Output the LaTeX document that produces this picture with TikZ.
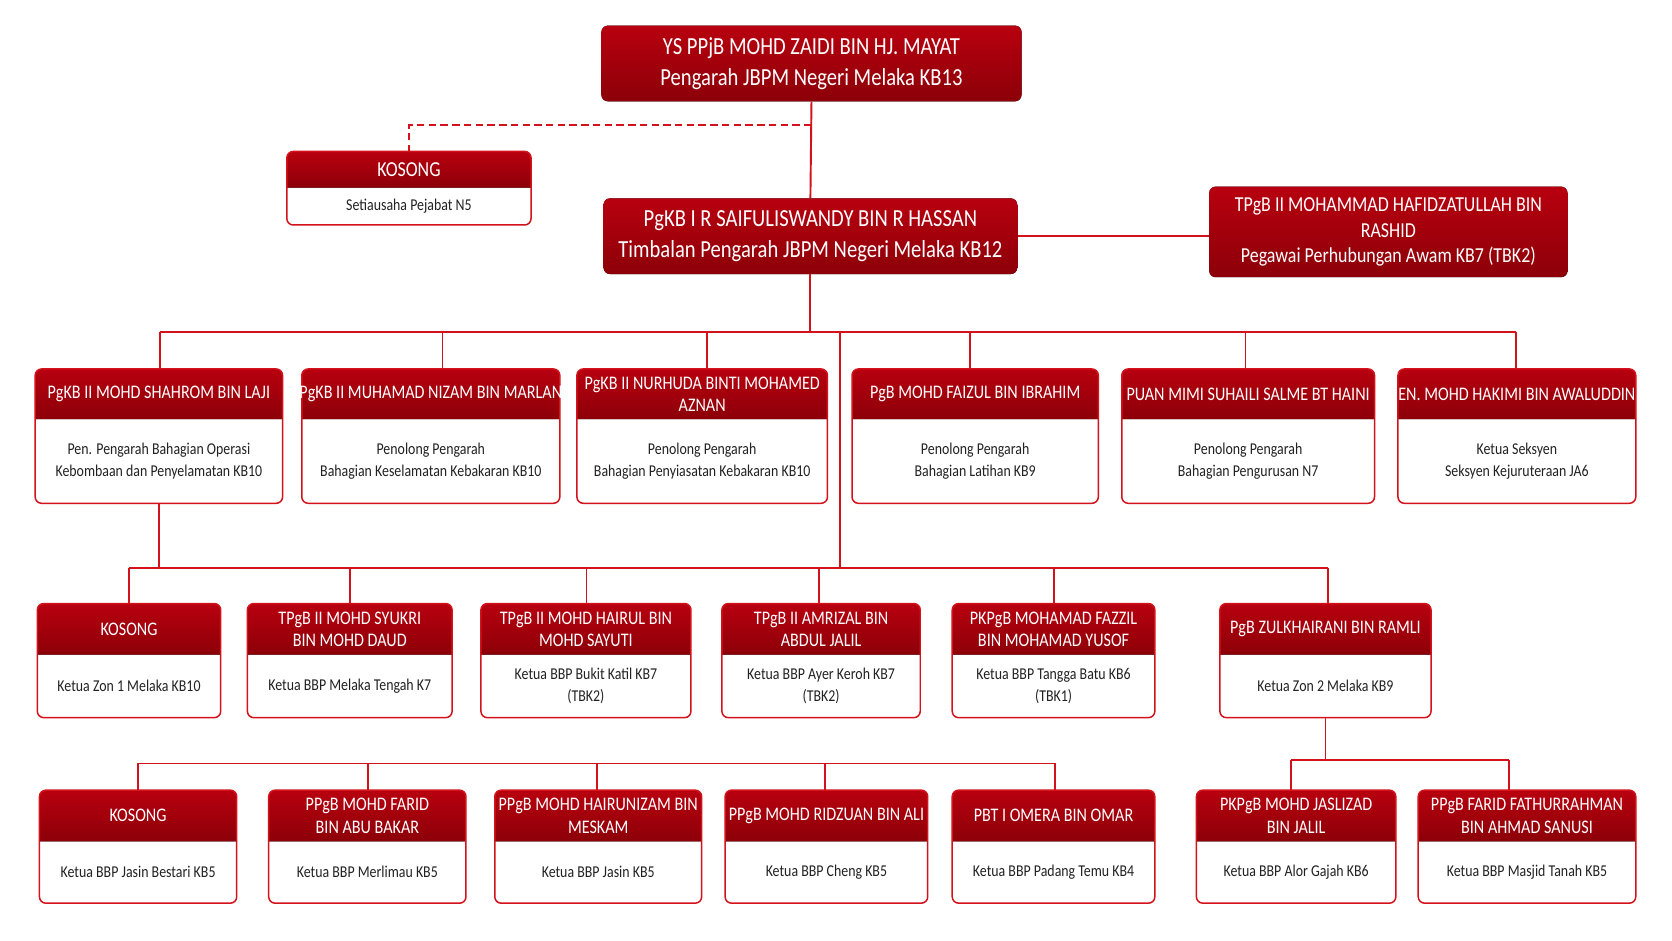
\documentclass[tikz,border=0pt]{standalone}
\usepackage{fontspec}
\setmainfont{Carlito}[FakeStretch=0.84]
\usetikzlibrary{fit,calc}
\definecolor{hdrtop}{HTML}{B8000F}
\definecolor{hdrbot}{HTML}{8C0008}
\definecolor{linered}{HTML}{D3121C}
\definecolor{bodytxt}{HTML}{222222}

\tikzstyle{obox}=[inner sep=0pt,fill=white]
\tikzstyle{hdr}=[top color=hdrtop,bottom color=hdrbot]
\tikzstyle{frame}=[draw=linered,line width=1.4pt]
\tikzstyle{link}=[draw=linered,line width=1.8pt]
\tikzstyle{htext}=[text=white,font=\fontsize{18}{21}\selectfont,align=center]
\tikzstyle{btext}=[text=bodytxt,font=\fontsize{15.5}{21}\selectfont,align=center]
\tikzstyle{bigtext}=[text=white,font=\fontsize{23}{29}\selectfont,align=center]

\newcommand\orgbox[8]{%
  \node[obox,fit={(#2,#3) (#4,#5)}] (#1) {};
  \fill[hdr,rounded corners=6pt] (#2,#6) [sharp corners] -- (#2,#3+8) [rounded corners=6pt] -- (#2,#3) -- (#4,#3) [sharp corners] -- (#4,#3+8) -- (#4,#6) -- cycle;
  \draw[frame,rounded corners=6pt] (#2,#3) rectangle (#4,#5);
  \node[htext] at ($(#2,#3)!0.5!(#4,#6)$) {#7};
  \node[btext] at ($(#2,#6)!0.5!(#4,#5)$) {#8};
}
\newcommand\redbox[6]{%
  \node[obox,fit={(#2,#3) (#4,#5)}] (#1) {};
  \fill[hdr,rounded corners=6pt] (#2,#3) rectangle (#4,#5);
  \node[bigtext] at (#1.center) {#6};
}

\begin{document}
\begin{tikzpicture}[x=1pt,y=-1pt]
\useasboundingbox[fill=white] (0,0) rectangle (1568,882);

% top of the chart
\redbox{pengarah}{564}{24}{958}{95}{YS PPjB MOHD ZAIDI BIN HJ. MAYAT\\Pengarah JBPM Negeri Melaka KB13}
\redbox{timbalan}{566}{186}{954}{257}{PgKB I R SAIFULISWANDY BIN R HASSAN\\Timbalan Pengarah JBPM Negeri Melaka KB12}
\node[obox,fit={(1134,175) (1470,260)}] (awam) {};
\fill[hdr,rounded corners=6pt] (1134,175) rectangle (1470,260);
\node[text=white,font=\fontsize{20}{24}\selectfont,align=center] at (awam.center) {TPgB II MOHAMMAD HAFIDZATULLAH BIN\\RASHID\\Pegawai Perhubungan Awam KB7 (TBK2)};
\orgbox{setiausaha}{269}{142}{498}{211}{176}{\fontsize{20}{22}\selectfont KOSONG}{Setiausaha Pejabat N5}

\draw[link] (pengarah.south) -- (timbalan.north);
\draw[link,dash pattern=on 7pt off 4pt] (pengarah.south) ++(0,22) coordinate (dsh) -| (setiausaha.north);
\draw[link] (timbalan.east) -- (timbalan.east -| awam.west);

% second row
\orgbox{operasi}{33}{346}{265}{472}{393}{PgKB II MOHD SHAHROM BIN LAJI}{Pen. Pengarah Bahagian Operasi\\Kebombaan dan Penyelamatan KB10}
\orgbox{keselamatan}{283}{346}{525}{472}{393}{PgKB II MUHAMAD NIZAM BIN MARLAN}{Penolong Pengarah\\Bahagian Keselamatan Kebakaran KB10}
\orgbox{siasatan}{541}{346}{776}{472}{393}{PgKB II NURHUDA BINTI MOHAMED\\AZNAN}{Penolong Pengarah\\Bahagian Penyiasatan Kebakaran KB10}
\orgbox{latihan}{799}{346}{1030}{472}{393}{PgB MOHD FAIZUL BIN IBRAHIM}{Penolong Pengarah\\Bahagian Latihan KB9}
\orgbox{urusan}{1052}{346}{1289}{472}{393}{PUAN MIMI SUHAILI SALME BT HAINI}{Penolong Pengarah\\Bahagian Pengurusan N7}
\orgbox{jurutera}{1311}{346}{1534}{472}{393}{EN. MOHD HAKIMI BIN AWALUDDIN}{Ketua Seksyen\\Seksyen Kejuruteraan JA6}

\draw[link] (timbalan.south) -- ++(0,54) coordinate (busA);
\draw[link] (150,311) -- (1422,311);
\foreach \dest/\xx in {operasi/150,keselamatan/415,siasatan/663,latihan/910,urusan/1168,jurutera/1422}
  \draw[link] (\xx,311) -- (\xx,346);
\draw[link] (788,311) -- (788,533);

% third row
\orgbox{zon1}{35}{566}{207}{673}{614}{KOSONG}{Ketua Zon 1 Melaka KB10}
\orgbox{tengah}{232}{566}{424}{673}{614}{TPgB II MOHD SYUKRI\\BIN MOHD DAUD}{Ketua BBP Melaka Tengah K7}
\orgbox{katil}{451}{566}{648}{673}{614}{TPgB II MOHD HAIRUL BIN\\MOHD SAYUTI}{Ketua BBP Bukit Katil KB7\\(TBK2)}
\orgbox{keroh}{677}{566}{863}{673}{614}{TPgB II AMRIZAL BIN\\ABDUL JALIL}{Ketua BBP Ayer Keroh KB7\\(TBK2)}
\orgbox{tangga}{893}{566}{1083}{673}{614}{PKPgB MOHAMAD FAZZIL\\BIN MOHAMAD YUSOF}{Ketua BBP Tangga Batu KB6\\(TBK1)}
\orgbox{zon2}{1144}{566}{1342}{673}{614}{PgB ZULKHAIRANI BIN RAMLI}{Ketua Zon 2 Melaka KB9}

\draw[link] (operasi.south) -- (operasi.south |- 0,533);
\draw[link] (121,533) -- (1245,533);
\foreach \dest/\xx in {zon1/121,tengah/328,katil/550,keroh/768,tangga/988,zon2/1245}
  \draw[link] (\xx,533) -- (\xx,566);

% fourth row
\orgbox{bestari}{37}{741}{222}{847}{789}{KOSONG}{Ketua BBP Jasin Bestari KB5}
\orgbox{merlimau}{252}{741}{437}{847}{789}{PPgB MOHD FARID\\BIN ABU BAKAR}{Ketua BBP Merlimau KB5}
\orgbox{jasin}{464}{741}{658}{847}{789}{PPgB MOHD HAIRUNIZAM BIN\\MESKAM}{Ketua BBP Jasin KB5}
\orgbox{cheng}{680}{741}{870}{847}{789}{PPgB MOHD RIDZUAN BIN ALI}{Ketua BBP Cheng KB5}
\orgbox{temu}{893}{741}{1083}{847}{789}{PBT I OMERA BIN OMAR}{Ketua BBP Padang Temu KB4}
\orgbox{alor}{1122}{741}{1309}{847}{789}{PKPgB MOHD JASLIZAD\\BIN JALIL}{Ketua BBP Alor Gajah KB6}
\orgbox{masjid}{1330}{741}{1534}{847}{789}{PPgB FARID FATHURRAHMAN\\BIN AHMAD SANUSI}{Ketua BBP Masjid Tanah KB5}

\draw[link] (129,716) -- (989,716);
\foreach \dest/\xx in {bestari/129,merlimau/345,jasin/560,cheng/774,temu/989}
  \draw[link] (\xx,716) -- (\xx,741);
\draw[link] (zon2.south) -- (zon2.south |- 0,713);
\draw[link] (1211,713) -- (1415,713);
\foreach \dest/\xx in {alor/1211,masjid/1415}
  \draw[link] (\xx,713) -- (\xx,741);
\end{tikzpicture}
\end{document}
